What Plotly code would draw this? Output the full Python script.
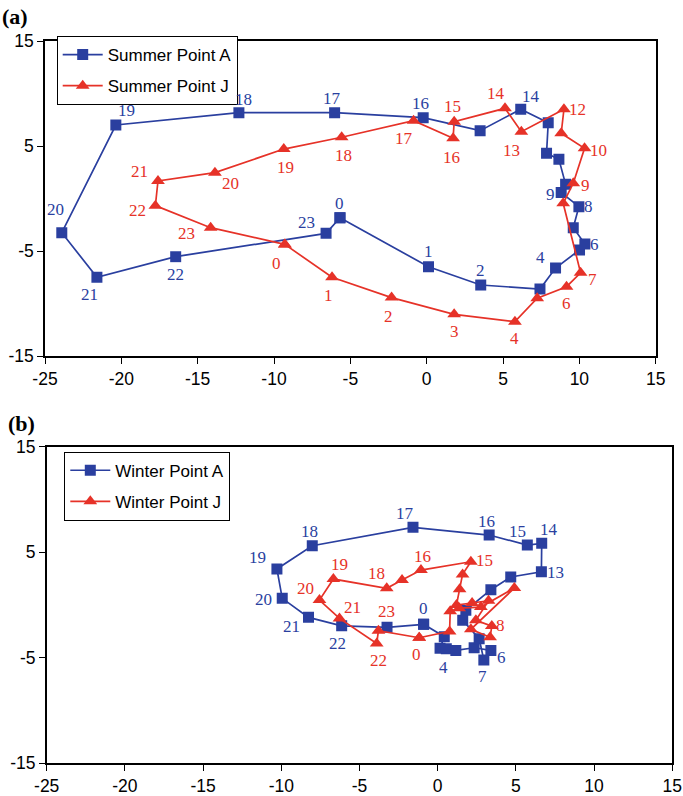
import plotly.graph_objects as go

# ---------------- data ----------------
hours = list(range(24))

summer_a_x = [-5.68, 0.12, 3.54, 7.42, 8.44, 10.01, 10.36, 9.6, 9.97, 8.81, 9.1, 8.66,
              7.85, 7.96, 6.16, 3.5, -0.23, -6.03, -12.3, -20.36, -23.9, -21.6, -16.44, -6.59]
summer_a_y = [-1.83, -6.5, -8.24, -8.62, -6.62, -4.9, -4.33, -2.78, -0.78, 0.56, 1.35, 3.73,
              4.3, 7.22, 8.5, 6.46, 7.7, 8.17, 8.17, 7.0, -3.26, -7.5, -5.54, -3.32]

summer_j_x = [-9.29, -6.2, -2.3, 1.8, 5.78, 7.24, 9.16, 10.08, 8.94, 9.6, 10.34, 8.81,
              8.99, 6.2, 5.13, 1.8, 1.73, -0.86, -5.57, -9.36, -13.87, -17.6, -17.77, -14.15]
summer_j_y = [-4.37, -7.5, -9.44, -11.03, -11.73, -9.5, -8.4, -7.07, -0.46, 1.45, 4.78, 6.21,
              8.5, 6.36, 8.59, 7.31, 5.73, 7.41, 5.83, 4.71, 2.46, 1.67, -0.68, -2.78]

winter_a_x = [-0.9, 0.42, 0.15, 0.55, 1.16, 2.33, 3.4, 2.95, 2.65, 1.6, 1.8, 3.4,
              4.67, 6.63, 6.65, 5.73, 3.29, -1.58, -8.02, -10.28, -9.94, -8.26, -6.14, -3.24]
winter_a_y = [-1.83, -3.0, -4.1, -4.15, -4.3, -4.05, -4.3, -5.2, -3.2, -1.45, -0.5, 1.45,
              2.65, 3.15, 5.84, 5.68, 6.63, 7.36, 5.62, 3.41, 0.63, -1.17, -1.97, -2.12]

winter_j_x = [-1.18, 0.76, 0.8, 1.37, 2.76, 4.9, 2.12, 3.35, 3.46, 2.44, 3.25, 2.2,
              1.2, 1.4, 1.59, 2.12, -1.07, -2.28, -3.26, -6.67, -7.56, -6.28, -3.9, -3.79]
winter_j_y = [-3.1, -2.5, -0.6, -0.3, -0.2, 1.6, -2.3, -3.05, -2.0, -1.45, 0.4, 0.2,
              0.0, 1.5, 2.9, 4.1, 3.31, 2.36, 1.58, 2.46, 0.47, -1.27, -3.64, -2.44]

# hours that carry a text label
summer_a_labels = [0, 1, 2, 4, 6, 8, 9, 14, 16, 17, 18, 19, 20, 21, 22, 23]
summer_j_labels = [0, 1, 2, 3, 4, 6, 7, 9, 10, 12, 13, 14, 15, 16, 17, 18, 19, 20, 21, 22, 23]
winter_a_labels = [0, 4, 6, 7, 13, 14, 15, 16, 17, 18, 19, 20, 21, 22]
winter_j_labels = [0, 8, 15, 16, 18, 19, 20, 21, 22, 23]

x_ticks = [-25, -20, -15, -10, -5, 0, 5, 10, 15]
x_tick_text = ["-25", "-20", "-15", "-10", "-5", "0", "5", "10", "15"]
y_ticks = [-15, -5, 5, 15]
y_tick_text = ["-15", "-5", "5", "15"]

# ---------------- styling / label offsets (pixels, dx right, dy down) ----------------
BLUE = "#2a3f9f"
RED = "#e63228"

off_sa = {0: (0, -14), 1: (0, -15), 2: (0, -15), 4: (-15, -11), 6: (10, 1), 8: (10, 0),
          9: (-11, 2), 14: (10, -13), 16: (-3, -14), 17: (-3, -14), 18: (5, -13),
          19: (11, -14), 20: (-6, -23), 21: (-7, 17), 22: (0, 18), 23: (-20, -11)}
off_sj = {0: (-8, 19), 1: (-4, 18), 2: (-3, 19), 3: (0, 17), 4: (0, 17), 6: (0, 17),
          7: (12, 7), 9: (12, 2), 10: (14, 2), 12: (14, 0), 13: (-10, 19), 14: (-9, -15),
          15: (-2, -15), 16: (-2, 19), 17: (-10, 18), 18: (2, 18), 19: (2, 18),
          20: (16, 11), 21: (-18, -9), 22: (-18, 5), 23: (-24, 6)}
off_wa = {0: (0, -16), 4: (-12, 17), 6: (11, 7), 7: (-1, 17), 13: (14, 1), 14: (7, -14),
          15: (-10, -14), 16: (-3, -14), 17: (-8, -14), 18: (-3, -14), 19: (-19, -12),
          20: (-19, 1), 21: (-17, 9), 22: (-4, 18)}
off_wj = {0: (-3, 17), 8: (9, -1), 15: (14, -1), 16: (2, -14), 18: (-10, -15),
          19: (6, -15), 20: (-14, -12), 21: (13, -11), 22: (2, 17), 23: (8, -19)}

W, H = 683, 796
# plot areas in pixels (left, right, top, bottom)
A_BOX = (45, 655.7, 41, 356)
B_BOX = (46.7, 672.3, 446.7, 763.3)


def dom_x(box):
    return [box[0] / W, box[1] / W]


def dom_y(box):
    return [1 - box[3] / H, 1 - box[2] / H]


fig = go.Figure()


def add_series(xs, ys, name, color, symbol, size, xa, ya, legend):
    fig.add_trace(go.Scatter(
        x=xs + xs[:1], y=ys + ys[:1], mode="lines+markers", name=name,
        line=dict(color=color, width=1.7),
        marker=dict(symbol=symbol, size=size, color=color, line=dict(width=0)),
        xaxis=xa, yaxis=ya, legend=legend, legendgroup=name))


add_series(summer_a_x, summer_a_y, "Summer Point A", BLUE, "square", 11, "x", "y", "legend")
add_series(summer_j_x, summer_j_y, "Summer Point J", RED, "triangle-up", 12, "x", "y", "legend")
add_series(winter_a_x, winter_a_y, "Winter Point A", BLUE, "square", 11, "x2", "y2", "legend2")
add_series(winter_j_x, winter_j_y, "Winter Point J", RED, "triangle-up", 12, "x2", "y2", "legend2")

annotations = []


def add_labels(xs, ys, labels, offs, color, xr, yr):
    for h in labels:
        dx, dy = offs.get(h, (0, -14))
        annotations.append(dict(
            x=xs[h], y=ys[h], xref=xr, yref=yr, text=str(hours[h]), showarrow=False,
            xshift=dx, yshift=-dy,
            font=dict(family="Liberation Serif, Times New Roman, serif", size=17, color=color)))


add_labels(summer_a_x, summer_a_y, summer_a_labels, off_sa, BLUE, "x", "y")
add_labels(summer_j_x, summer_j_y, summer_j_labels, off_sj, RED, "x", "y")
add_labels(winter_a_x, winter_a_y, winter_a_labels, off_wa, BLUE, "x2", "y2")
add_labels(winter_j_x, winter_j_y, winter_j_labels, off_wj, RED, "x2", "y2")

annotations.append(dict(x=0, y=1 - 2 / H, xref="paper", yref="paper", xanchor="left",
                        yanchor="top", showarrow=False, text="<b>(a)</b>",
                        font=dict(family="Liberation Serif, serif", size=22, color="black")))
annotations.append(dict(x=6 / W, y=1 - 409 / H, xref="paper", yref="paper", xanchor="left",
                        yanchor="top", showarrow=False, text="<b>(b)</b>",
                        font=dict(family="Liberation Serif, serif", size=22, color="black")))

axis_common = dict(showgrid=False, zeroline=False, showline=True, linecolor="black",
                   linewidth=1.5, mirror=True, ticks="outside", ticklen=6, tickwidth=1,
                   tickcolor="black", automargin=False,
                   tickfont=dict(family="Liberation Sans, Arial, sans-serif", size=17.5,
                                 color="black"))

legend_common = dict(bgcolor="white", bordercolor="black", borderwidth=1,
                     font=dict(family="Liberation Sans, Arial, sans-serif", size=17,
                               color="black"),
                     xanchor="left", yanchor="top", itemwidth=40, tracegroupgap=6,
                     traceorder="grouped")

fig.update_layout(
    width=W, height=H, autosize=False,
    margin=dict(l=0, r=0, t=0, b=0, autoexpand=False),
    paper_bgcolor="white", plot_bgcolor="white",
    showlegend=True,
    xaxis=dict(domain=dom_x(A_BOX), range=[-25, 15], tickvals=x_ticks, ticktext=x_tick_text,
               anchor="y", **axis_common),
    yaxis=dict(domain=dom_y(A_BOX), range=[-15, 15], tickvals=y_ticks, ticktext=y_tick_text,
               anchor="x", **axis_common),
    xaxis2=dict(domain=dom_x(B_BOX), range=[-25, 15], tickvals=x_ticks, ticktext=x_tick_text,
                anchor="y2", **axis_common),
    yaxis2=dict(domain=dom_y(B_BOX), range=[-15, 15], tickvals=y_ticks, ticktext=y_tick_text,
                anchor="x2", **axis_common),
    legend=dict(x=56.7 / W, y=1 - 36 / H, **legend_common),
    legend2=dict(x=64.3 / W, y=1 - 451.7 / H, **legend_common),
    annotations=annotations,
)

fig.write_html("out.html", config={"displayModeBar": False},
               post_script="document.body.style.margin='0';document.body.style.padding='0';"
                           "document.body.style.overflow='hidden';")
